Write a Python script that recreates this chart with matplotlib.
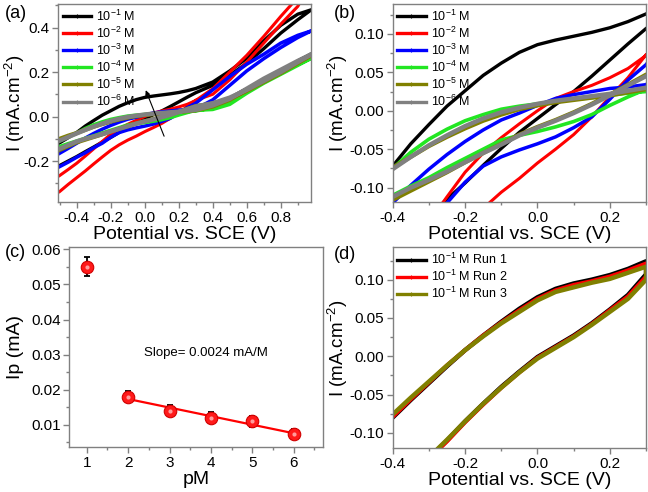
import numpy as np
import matplotlib
matplotlib.use("Agg")
import matplotlib.pyplot as plt
from matplotlib.lines import Line2D
from matplotlib.ticker import MultipleLocator, FormatStrFormatter

plt.rcParams["font.family"] = ["Liberation Sans", "DejaVu Sans"]
plt.rcParams["axes.unicode_minus"] = False
plt.rcParams["mathtext.fontset"] = "custom"
plt.rcParams["mathtext.rm"] = "Liberation Sans"
plt.rcParams["mathtext.default"] = "regular"

# ---- CV data, panels (a) and (b) (b is a zoom of a) ----
potential = [-0.5, -0.45, -0.4, -0.35, -0.3, -0.25, -0.2, -0.15, -0.1, -0.05, 0.0,
             0.05, 0.1, 0.15, 0.2, 0.25, 0.3, 0.4, 0.5, 0.6, 0.7, 0.8, 0.9, 0.98]

i_up_1 = [-0.118, -0.095, -0.072, -0.043, -0.018, 0.006, 0.026, 0.046, 0.062, 0.076, 0.086,
          0.092, 0.097, 0.102, 0.108, 0.116, 0.126, 0.155, 0.205, 0.262, 0.34, 0.41, 0.46, 0.48]
i_dn_1 = [-0.22, -0.2, -0.18, -0.158, -0.137, -0.115, -0.094, -0.071, -0.049, -0.028, -0.01,
          0.008, 0.025, 0.045, 0.066, 0.087, 0.107, 0.14, 0.185, 0.24, 0.305, 0.375, 0.435, 0.48]

i_up_2 = [-0.265, -0.238, -0.21, -0.178, -0.145, -0.112, -0.08, -0.055, -0.035, -0.017, 0.0,
          0.016, 0.025, 0.033, 0.043, 0.055, 0.072, 0.125, 0.2, 0.275, 0.36, 0.45, 0.535, 0.6]
i_dn_2 = [-0.337, -0.305, -0.275, -0.245, -0.213, -0.182, -0.152, -0.127, -0.106, -0.088, -0.068,
          -0.05, -0.031, -0.008, 0.018, 0.043, 0.073, 0.1, 0.165, 0.245, 0.33, 0.415, 0.495, 0.6]

i_up_3 = [-0.165, -0.143, -0.12, -0.097, -0.076, -0.057, -0.04, -0.025, -0.012, -0.003, 0.007,
          0.016, 0.021, 0.025, 0.029, 0.031, 0.034, 0.075, 0.14, 0.205, 0.26, 0.31, 0.355, 0.385]
i_dn_3 = [-0.225, -0.205, -0.183, -0.163, -0.14, -0.12, -0.093, -0.072, -0.06, -0.051, -0.043,
          -0.034, -0.022, -0.008, 0.015, 0.04, 0.06, 0.12, 0.18, 0.235, 0.28, 0.33, 0.365, 0.385]

i_up_4 = [-0.11, -0.092, -0.075, -0.054, -0.037, -0.024, -0.013, -0.005, 0.002, 0.006, 0.009,
          0.012, 0.015, 0.017, 0.02, 0.023, 0.025, 0.04, 0.07, 0.115, 0.16, 0.2, 0.235, 0.262]
i_dn_4 = [-0.135, -0.122, -0.11, -0.098, -0.087, -0.074, -0.062, -0.05, -0.038, -0.032, -0.027,
          -0.021, -0.014, -0.005, 0.007, 0.018, 0.028, 0.032, 0.055, 0.105, 0.15, 0.19, 0.23, 0.262]

i_up_5 = [-0.1, -0.086, -0.074, -0.06, -0.046, -0.034, -0.023, -0.013, -0.005, 0.002, 0.007,
          0.011, 0.014, 0.017, 0.02, 0.024, 0.028, 0.045, 0.075, 0.12, 0.165, 0.205, 0.245, 0.275]
i_dn_5 = [-0.15, -0.133, -0.116, -0.104, -0.092, -0.08, -0.067, -0.055, -0.043, -0.031, -0.021,
          -0.012, -0.002, 0.009, 0.021, 0.034, 0.047, 0.058, 0.08, 0.115, 0.155, 0.195, 0.24, 0.275]

i_up_6 = [-0.108, -0.092, -0.076, -0.06, -0.045, -0.032, -0.02, -0.01, -0.002, 0.004, 0.009,
          0.013, 0.016, 0.019, 0.022, 0.026, 0.03, 0.05, 0.08, 0.125, 0.17, 0.21, 0.25, 0.28]
i_dn_6 = [-0.145, -0.128, -0.112, -0.1, -0.09, -0.079, -0.067, -0.055, -0.044, -0.032, -0.022,
          -0.013, -0.003, 0.008, 0.02, 0.033, 0.045, 0.06, 0.085, 0.12, 0.16, 0.2, 0.245, 0.28]

conc_labels = ["10$^{-1}$ M", "10$^{-2}$ M", "10$^{-3}$ M", "10$^{-4}$ M", "10$^{-5}$ M", "10$^{-6}$ M"]
conc_colors = ["#000000", "#ff0000", "#0000ff", "#22e622", "#808000", "#808080"]
conc_lw = [2.4, 2.2, 2.5, 2.6, 3.0, 3.2]
up_curves = [i_up_1, i_up_2, i_up_3, i_up_4, i_up_5, i_up_6]
dn_curves = [i_dn_1, i_dn_2, i_dn_3, i_dn_4, i_dn_5, i_dn_6]

# ---- panel (c) ----
pm = [1, 2, 3, 4, 5, 6]
ip = [0.055, 0.018, 0.014, 0.012, 0.011, 0.0073]
ip_err = [0.0027, 0.0015, 0.0015, 0.0015, 0.0015, 0.0014]

# ---- panel (d): repeated runs at 10^-1 M ----
potential_d = [-0.45, -0.4, -0.35, -0.3, -0.25, -0.2, -0.15, -0.1, -0.05, 0.0,
               0.05, 0.1, 0.15, 0.2, 0.25, 0.3]
run1_up = [-0.103, -0.08, -0.057, -0.035, -0.013, 0.008, 0.027, 0.045, 0.062, 0.077,
           0.088, 0.095, 0.1, 0.106, 0.114, 0.124]
run1_dn = [-0.2, -0.18, -0.157, -0.133, -0.11, -0.085, -0.062, -0.04, -0.02, -0.001,
           0.013, 0.027, 0.043, 0.061, 0.08, 0.107]
run2_up = [-0.102, -0.079, -0.056, -0.034, -0.012, 0.008, 0.027, 0.044, 0.06, 0.075,
           0.086, 0.093, 0.098, 0.104, 0.112, 0.121]
run2_dn = [-0.2, -0.18, -0.158, -0.134, -0.111, -0.086, -0.063, -0.041, -0.021, -0.002,
           0.012, 0.026, 0.042, 0.06, 0.078, 0.104]
run3_up = [-0.099, -0.076, -0.054, -0.033, -0.012, 0.008, 0.026, 0.043, 0.058, 0.073,
           0.084, 0.09, 0.096, 0.101, 0.109, 0.117]
run3_dn = [-0.2, -0.178, -0.156, -0.132, -0.109, -0.085, -0.062, -0.041, -0.021, -0.003,
           0.011, 0.025, 0.041, 0.058, 0.075, 0.1]
run_labels = ["10$^{-1}$ M Run 1", "10$^{-1}$ M Run 2", "10$^{-1}$ M Run 3"]
run_colors = ["#000000", "#ff0000", "#808000"]
run_lw = [3.2, 3.0, 3.2]
run_up = [run1_up, run2_up, run3_up]
run_dn = [run1_dn, run2_dn, run3_dn]

FRAME = "#808080"


def style(ax):
    for s in ax.spines.values():
        s.set_color(FRAME)
        s.set_linewidth(1.0)
    ax.tick_params(which="both", direction="out", top=False, right=False,
                   color=FRAME, labelcolor="black", labelsize=11, pad=2)
    ax.tick_params(which="major", length=4, width=1)
    ax.tick_params(which="minor", length=2, width=1)


def loop(ax, v, up, dn, **kw):
    x = list(v) + list(v)[::-1]
    y = list(up) + list(dn)[::-1]
    ax.plot(x, y, solid_joinstyle="round", **kw)


def legend(ax, labels, colors):
    hs = [Line2D([], [], color=c, lw=2.4, marker="+", ms=3.5, mew=0.8) for c in colors]
    ax.legend(hs, labels, loc="upper left", frameon=False, fontsize=9,
              handlelength=2.3, handletextpad=0.4, labelspacing=0.15,
              borderaxespad=0.15, borderpad=0.2)


fig = plt.figure(figsize=(6.48, 4.92), dpi=100)
ax_a = fig.add_axes([0.090, 0.589, 0.390, 0.403])
ax_b = fig.add_axes([0.606, 0.589, 0.391, 0.403])
ax_c = fig.add_axes([0.107, 0.091, 0.391, 0.4065])
ax_d = fig.add_axes([0.606, 0.089, 0.391, 0.408])

for ax in (ax_a, ax_b):
    for up, dn, c, lw in zip(up_curves, dn_curves, conc_colors, conc_lw):
        loop(ax, potential, up, dn, color=c, lw=lw)
    style(ax)
    legend(ax, conc_labels, conc_colors)
    ax.set_xlabel("Potential vs. SCE (V)", fontsize=14, labelpad=1)
    ax.set_ylabel("I (mA.cm$^{-2}$)", fontsize=13.5)

ax_a.set_xlim(-0.508, 0.978)
ax_a.set_ylim(-0.385, 0.506)
ax_a.xaxis.set_major_locator(MultipleLocator(0.2))
ax_a.xaxis.set_minor_locator(MultipleLocator(0.1))
ax_a.yaxis.set_major_locator(MultipleLocator(0.2))
ax_a.yaxis.set_minor_locator(MultipleLocator(0.1))
ax_a.xaxis.set_major_formatter(FormatStrFormatter("%.1f"))
ax_a.yaxis.set_major_formatter(FormatStrFormatter("%.1f"))
ax_a.yaxis.set_label_coords(-0.122, 0.5)
ax_a.annotate("", xy=(0.0, 0.13), xytext=(0.12, -0.10),
              arrowprops=dict(arrowstyle="-|>", color="black", lw=0.8, mutation_scale=7))

for ax in (ax_b, ax_d):
    ax.set_xlim(-0.4, 0.3)
    ax.xaxis.set_major_locator(MultipleLocator(0.2))
    ax.xaxis.set_minor_locator(MultipleLocator(0.1))
    ax.yaxis.set_major_locator(MultipleLocator(0.05))
    ax.yaxis.set_minor_locator(MultipleLocator(0.025))
    ax.xaxis.set_major_formatter(FormatStrFormatter("%.1f"))
    ax.yaxis.set_major_formatter(FormatStrFormatter("%.2f"))
ax_b.set_ylim(-0.119, 0.139)
ax_d.set_ylim(-0.12, 0.142)
ax_b.yaxis.set_label_coords(-0.168, 0.5)

# (c)
fit = np.polyfit(pm[1:], ip[1:], 1)
xf = np.array([pm[1], pm[-1]])
ax_c.plot(xf, np.polyval(fit, xf), color="#ff0000", lw=1.6, zorder=2)
ax_c.errorbar(pm, ip, yerr=ip_err, fmt="none", ecolor="black", elinewidth=1.3,
              capsize=2.5, capthick=1.3, zorder=3)
ax_c.plot(pm, ip, "o", ms=9, mfc="#ff1a1a", mec="#d00000", mew=0.8, zorder=4)
ax_c.plot(pm, ip, "o", ms=3, mfc="#ff9c9c", mec="none", zorder=5)
ax_c.text(3.88, 0.0304, "Slope= 0.0024 mA/M", fontsize=9.5, ha="center", va="center")
style(ax_c)
ax_c.set_xlim(0.58, 6.7)
ax_c.set_ylim(0.0036, 0.0606)
ax_c.xaxis.set_major_locator(MultipleLocator(1))
ax_c.xaxis.set_minor_locator(MultipleLocator(0.5))
ax_c.yaxis.set_major_locator(MultipleLocator(0.01))
ax_c.yaxis.set_minor_locator(MultipleLocator(0.005))
ax_c.yaxis.set_major_formatter(FormatStrFormatter("%.2f"))
ax_c.set_xlabel("pM", fontsize=14, labelpad=1)
ax_c.set_ylabel("Ip (mA)", fontsize=14)
ax_c.yaxis.set_label_coords(-0.18, 0.5)

# (d)
for up, dn, c, lw in zip(run_up, run_dn, run_colors, run_lw):
    loop(ax_d, potential_d, up, dn, color=c, lw=lw)
style(ax_d)
legend(ax_d, run_labels, run_colors)
ax_d.set_xlabel("Potential vs. SCE (V)", fontsize=14, labelpad=1)
ax_d.set_ylabel("I (mA.cm$^{-2}$)", fontsize=13.5)
ax_d.yaxis.set_label_coords(-0.168, 0.5)

for lab, x, y in [("(a)", 0.007, 0.973), ("(b)", 0.515, 0.973),
                  ("(c)", 0.007, 0.486), ("(d)", 0.515, 0.482)]:
    fig.text(x, y, lab, fontsize=13, ha="left", va="center")

fig.savefig("out.png", dpi=100)
